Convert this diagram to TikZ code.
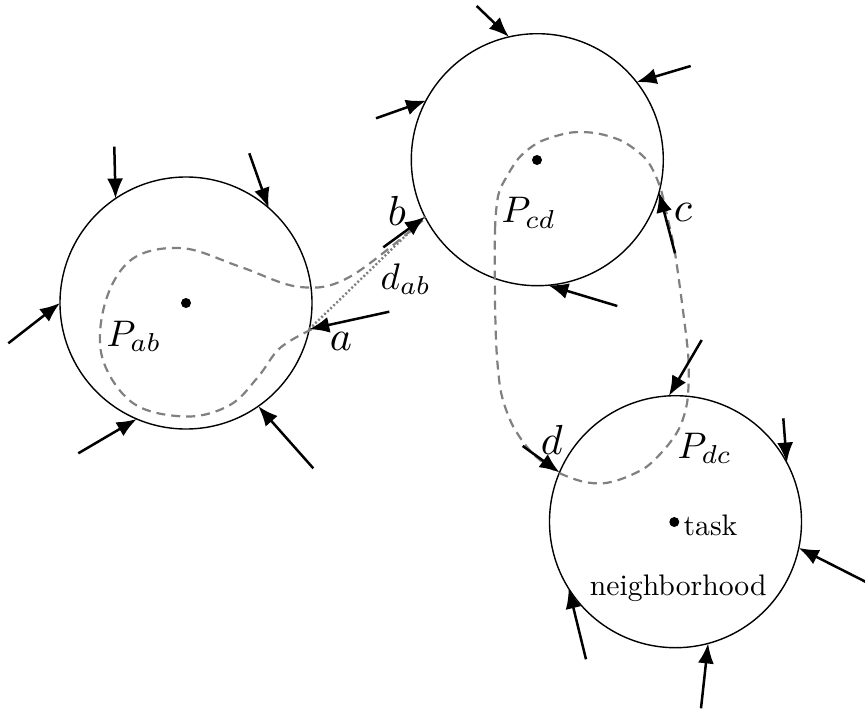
\documentclass[tikz,border=0pt]{standalone}
\usetikzlibrary{arrows.meta}
\begin{document}
\begin{tikzpicture}[x=1pt,y=-1pt,
  nb/.style={circle,draw,line width=1.4pt,minimum size=252pt,inner sep=0pt,outer sep=0pt},
  inarrow/.style={line width=2.5pt,-{Latex[length=20pt,width=16pt]}},
  route/.style={gray,line width=2.2pt,dash pattern=on 9pt off 6pt},
  direct/.style={gray,line width=2.4pt,dash pattern=on 2pt off 2.2pt},
  letter/.style={inner sep=0pt,anchor=base west,scale=4.2},
  plab/.style={inner sep=0pt,anchor=base west,scale=3.7},
  txt/.style={inner sep=0pt,scale=2.97},
  dot/.style={circle,fill,inner sep=0pt,minimum size=10pt}]
\useasboundingbox (0,0) rectangle (865,715);
% neighborhoods
\node[nb] (c1) at (186,303) {};
\node[nb] (c2) at (537.3,159.7) {};
\node[nb] (c3) at (675.5,521.7) {};
\node[dot] (t1) at (186,303) {};
\node[dot] (t2) at (537,160) {};
\node[dot] (t3) at (674.3,522) {};
% routes
\draw[route] plot[smooth,tension=0.6] coordinates {(311.7,329.3) (280,348) (258,377) (230,405) (186.7,416.5) (133.3,403.3) (102,356.7) (106,300) (133.3,258.3) (183.3,248.3) (240,266.7) (300,287) (350,276.7) (424,219.3)};
\draw[route] plot[smooth cycle,tension=0.5] coordinates {(495,300) (495,230) (498.3,195) (506.7,176.7) (520,156.7) (540,141.7) (570,132.7) (596.7,133.3) (623.3,141.7) (646.7,160) (660,186.7) (668,220) (675,253) (683.3,313) (688.5,360) (687.5,400) (680,426.7) (666.7,446.7) (646.7,466.7) (623.3,478.3) (603.3,483.3) (583.3,481.7) (560,473.3) (540,460) (526.7,446.7) (513.3,426.7) (505,406.7) (500,386.7) (496.5,350)};
\draw[direct] (c1.348.2) -- (c2.207.7);
% arrow start points
\coordinate (s1) at (114.3,146.7);
\coordinate (s2) at (249.3,153.3);
\coordinate (s3) at (8.3,343.3);
\coordinate (s4) at (78.3,453.3);
\coordinate (s5) at (313.3,468.3);
\coordinate (sa) at (389.3,311.7);
\coordinate (sb) at (383.3,247.3);
\coordinate (s6) at (476.7,6);
\coordinate (s7) at (690.7,66);
\coordinate (s8) at (376,118.3);
\coordinate (sc) at (675,253.3);
\coordinate (s9) at (617.3,306);
\coordinate (s10) at (701.7,340);
\coordinate (s11) at (783.3,418.3);
\coordinate (s12) at (866,582);
\coordinate (s13) at (701,708.3);
\coordinate (s14) at (586,659.3);
\coordinate (sd) at (522.7,446);
% arrows
\draw[inarrow] (s1) -- (c1.124.8);
\draw[inarrow] (s2) -- (c1.49.6);
\draw[inarrow] (s3) -- (c1.180.9);
\draw[inarrow] (s4) -- (c1.247.9);
\draw[inarrow] (s5) -- (c1.305.8);
\draw[inarrow] (sa) -- (c1.348.2);
\draw[inarrow] (sb) -- (c2.207.7);
\draw[inarrow] (s6) -- (c2.103.4);
\draw[inarrow] (s7) -- (c2.38.2);
\draw[inarrow] (s8) -- (c2.152.1);
\draw[inarrow] (sc) -- (c2.345.6);
\draw[inarrow] (s9) -- (c2.275);
\draw[inarrow] (s10) -- (c3.93.9);
\draw[inarrow] (s11) -- (c3.28);
\draw[inarrow] (s12) -- (c3.348.6);
\draw[inarrow] (s13) -- (c3.285.5);
\draw[inarrow] (s14) -- (c3.212);
\draw[inarrow] (sd) -- (c3.157.3);
% labels
\node[plab] (lpab) at (106,346) {$P_{ab}$};
\node[plab] (lpcd) at (501,222.7) {$P_{cd}$};
\node[plab] (lpdc) at (677,458.3) {$P_{dc}$};
\node[letter] (la) at (329,350) {$a$};
\node[letter] (lb) at (387,225) {$b$};
\node[letter] (lc) at (673,221.7) {$c$};
\node[letter] (ld) at (540,454) {$d$};
\node[plab] (ldab) at (380,289.3) {$d_{ab}$};
\node[txt,anchor=base west] (ltask) at (683,535.5) {task};
\node[txt,anchor=base] (lnb) at (678.3,595) {neighborhood};
\end{tikzpicture}
\end{document}
